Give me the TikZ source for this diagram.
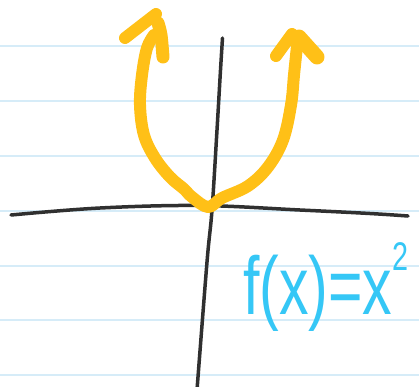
\documentclass[tikz,border=0pt]{standalone}
\usepackage{fontspec}
\setmainfont{Liberation Sans}
\definecolor{paperblue}{RGB}{214,236,248}
\definecolor{axisgray}{RGB}{48,48,48}
\definecolor{curveorange}{RGB}{255,192,23}
\definecolor{labelcyan}{RGB}{53,199,246}
\begin{document}
\begin{tikzpicture}[x=1pt,y=-1pt,
  paper/.style={draw=paperblue, line width=1.5pt},
  axisline/.style={draw=axisgray, line width=3.5pt, line cap=round},
  curve/.style={draw=curveorange, line width=12pt, line cap=round, line join=round},
  eqlabel/.style={text=labelcyan, font=\fontsize{82}{82}\selectfont, inner sep=0pt, xscale=0.72}]
\useasboundingbox[fill=white] (0,0) rectangle (419,386);
% notebook lines
\foreach \yy in {46,101,156,211,266,320,375}
  \draw[paper] (0,\yy) -- (419,\yy);
% axes
\draw[axisline] plot[smooth, tension=0.6] coordinates {(11,215) (100,208) (200,205.5) (300,210) (370,213.5) (408,216)};
\draw[axisline] plot[smooth, tension=0.6] coordinates {(222.5,38) (220.5,70) (217,130) (212,210) (207,262) (197,390)};
% parabola
\draw[curve] plot[smooth, tension=0.6] coordinates {(154,35) (147,48) (142,75) (140,105) (144,135) (155,158) (170,177) (184,189) (192,197) (208,207) (222,198) (248,186) (268,167) (283,140) (291,105) (294,75) (297,46)};
% arrowheads
\draw[curve] (125,38) -- (156,14);
\draw[curve, line width=13pt] plot[smooth] coordinates {(158,23) (161,35) (163,57)};
\draw[curve] (276,56) -- (292,34);
\draw[curve, line width=15pt] (299,37) -- (317,57);
% label
\node[eqlabel, anchor=base west] (eq) at (243,314) {f(x)=x\raisebox{44pt}{\fontsize{40}{40}\selectfont 2}};
\end{tikzpicture}
\end{document}
